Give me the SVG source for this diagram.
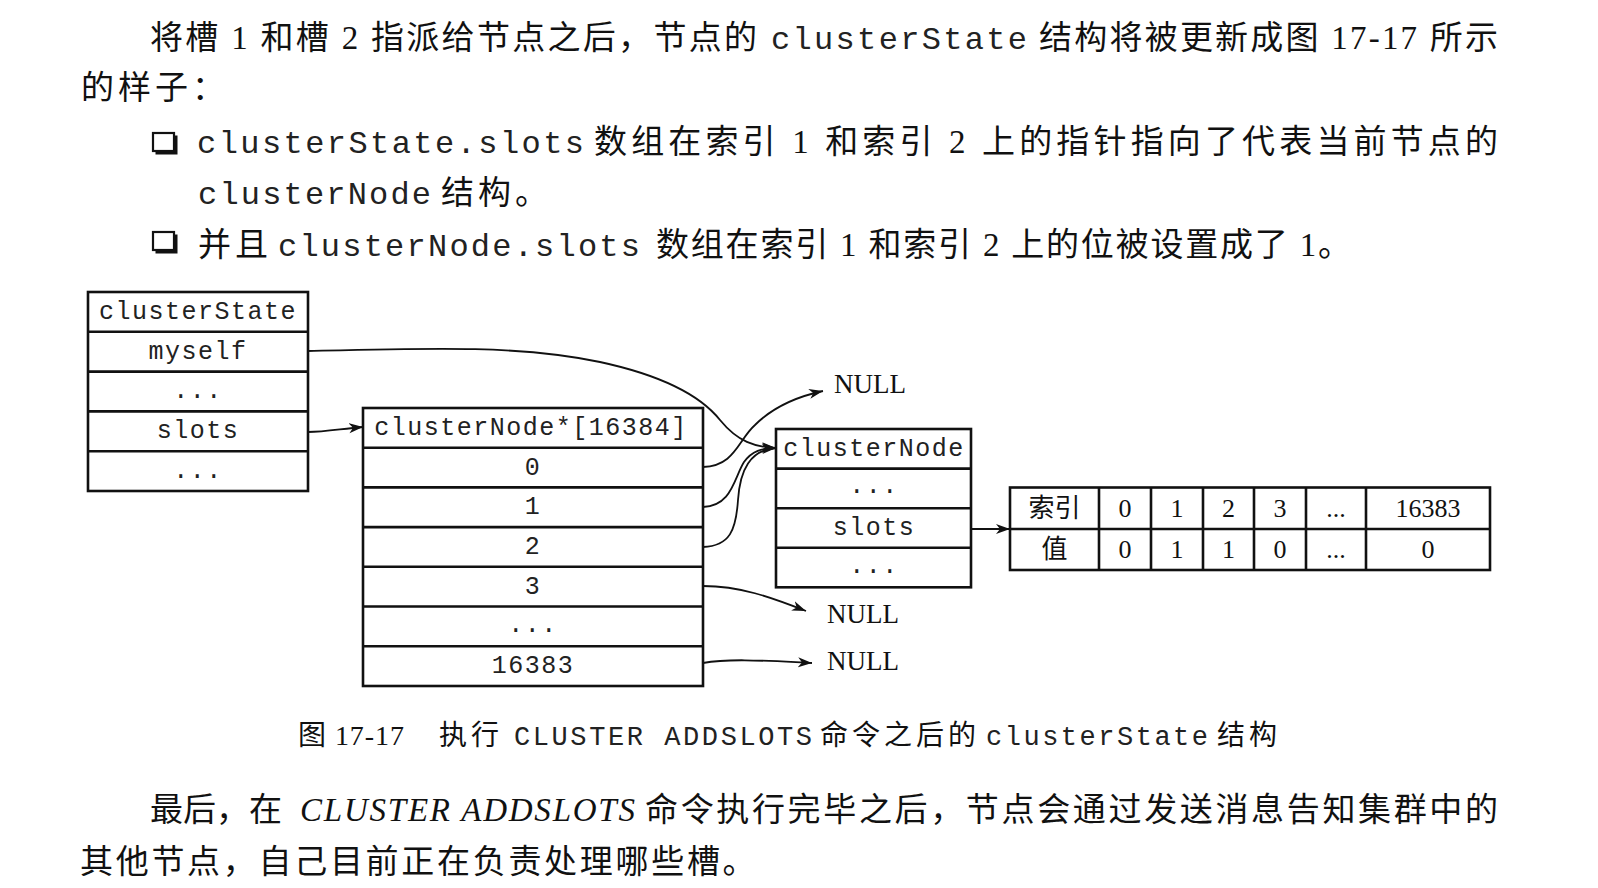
<svg xmlns="http://www.w3.org/2000/svg" width="1598" height="888" viewBox="0 0 1598 888">
<defs>
<marker id="ah" markerWidth="16" markerHeight="12" refX="14" refY="6" orient="auto" markerUnits="userSpaceOnUse"><path d="M0,1 L14,6 L0,11 L4,6 z" fill="#111"/></marker>
</defs>
<style>
.body{font-family:"Liberation Serif","Noto Sans CJK SC",serif;font-size:33px;fill:#111}
.mono{font-family:"Liberation Mono",monospace;font-size:32px;fill:#222}
.cap{font-family:"Liberation Serif","Noto Sans CJK SC",serif;font-size:28px;fill:#111}
.capm{font-family:"Liberation Mono",monospace;font-size:27px;fill:#222}
.box{fill:#fff;stroke:#111;stroke-width:2.6}
.div{stroke:#111;stroke-width:2.6;fill:none}
.bm{font-family:"Liberation Mono",monospace;font-size:25px;letter-spacing:1.5px;text-anchor:middle;fill:#222}
.tt{font-family:"Liberation Serif","Noto Sans CJK SC",serif;font-size:26px;text-anchor:middle;fill:#111}
.null{font-family:"Liberation Serif",serif;font-size:27px;fill:#111}
.conn{fill:none;stroke:#111;stroke-width:1.8;marker-end:url(#ah)}
.chk{fill:#fff;stroke:#111;stroke-width:2.2}
</style>
<rect width="1598" height="888" fill="#fff"/>

<g id="text">
<text class="body" x="150" y="49" textLength="607" lengthAdjust="spacing">将槽 1 和槽 2 指派给节点之后，节点的</text>
<text class="mono" x="771" y="49" textLength="256" lengthAdjust="spacing">clusterState</text>
<text class="body" x="1039" y="49" textLength="459" lengthAdjust="spacing">结构将被更新成图 17-17 所示</text>
<text class="body" x="81" y="99" letter-spacing="4">的样子：</text>

<rect x="155.5" y="135.5" width="22" height="19" fill="#111"/>
<rect class="chk" x="153" y="133" width="21" height="18"/>
<text class="mono" x="197" y="153" textLength="387" lengthAdjust="spacing">clusterState.slots</text>
<text class="body" x="594" y="153" textLength="904" lengthAdjust="spacing">数组在索引 1 和索引 2 上的指针指向了代表当前节点的</text>
<text class="mono" x="198" y="204" textLength="233" lengthAdjust="spacing">clusterNode</text>
<text class="body" x="441" y="204" letter-spacing="4">结构。</text>

<rect x="155.5" y="234.5" width="22" height="19" fill="#111"/>
<rect class="chk" x="153" y="232" width="21" height="18"/>
<text class="body" x="198" y="256" letter-spacing="4">并且</text>
<text class="mono" x="278" y="256" textLength="362" lengthAdjust="spacing">clusterNode.slots</text>
<text class="body" x="656" y="256" textLength="695" lengthAdjust="spacing">数组在索引 1 和索引 2 上的位被设置成了 1。</text>

<text class="cap" x="298" y="745" textLength="106" lengthAdjust="spacing">图 17-17</text>
<text class="cap" x="439" y="745" letter-spacing="4">执行</text>
<text class="capm" x="514" y="745" textLength="298" lengthAdjust="spacing">CLUSTER ADDSLOTS</text>
<text class="cap" x="820" y="745" letter-spacing="4">命令之后的</text>
<text class="capm" x="986" y="745" textLength="222" lengthAdjust="spacing">clusterState</text>
<text class="cap" x="1217" y="745" letter-spacing="4">结构</text>

<text class="body" x="150" y="821">最后，在</text>
<text class="body" x="300" y="821" font-style="italic" textLength="335" lengthAdjust="spacing">CLUSTER ADDSLOTS</text>
<text class="body" x="645" y="821" textLength="853" lengthAdjust="spacing">命令执行完毕之后，节点会通过发送消息告知集群中的</text>
<text class="body" x="80" y="873" letter-spacing="2.7">其他节点，自己目前正在负责处理哪些槽。</text>
</g>

<g id="clusterState">
<rect class="box" x="88" y="292" width="220" height="199"/>
<path class="div" d="M88,331.8H308M88,371.6H308M88,411.4H308M88,451.2H308"/>
<text class="bm" x="198" y="319">clusterState</text>
<text class="bm" x="198" y="359">myself</text>
<text class="bm" x="198" y="398">...</text>
<text class="bm" x="198" y="438">slots</text>
<text class="bm" x="198" y="478">...</text>
</g>

<g id="slotsArray">
<rect class="box" x="363" y="408" width="340" height="278"/>
<path class="div" d="M363,447.7H703M363,487.4H703M363,527.1H703M363,566.8H703M363,606.5H703M363,646.2H703"/>
<text class="bm" x="531" y="435">clusterNode*[16384]</text>
<text class="bm" x="533" y="475">0</text>
<text class="bm" x="533" y="514">1</text>
<text class="bm" x="533" y="554">2</text>
<text class="bm" x="533" y="594">3</text>
<text class="bm" x="533" y="632">...</text>
<text class="bm" x="533" y="673">16383</text>
</g>

<g id="clusterNode">
<rect class="box" x="776" y="429" width="195" height="158.3"/>
<path class="div" d="M776,468.6H971M776,508.2H971M776,547.8H971"/>
<text class="bm" x="874" y="456">clusterNode</text>
<text class="bm" x="874" y="493">...</text>
<text class="bm" x="874" y="535">slots</text>
<text class="bm" x="874" y="573">...</text>
</g>

<g id="slotsTable">
<rect class="box" x="1010" y="487.5" width="480" height="82.5"/>
<path class="div" d="M1010,529H1490M1099,487.5V570M1151,487.5V570M1203,487.5V570M1254,487.5V570M1306,487.5V570M1366,487.5V570"/>
<text class="tt" x="1054.5" y="517">索引</text>
<text class="tt" x="1125" y="517">0</text>
<text class="tt" x="1177" y="517">1</text>
<text class="tt" x="1228.5" y="517">2</text>
<text class="tt" x="1280" y="517">3</text>
<text class="tt" x="1336" y="517">...</text>
<text class="tt" x="1428" y="517">16383</text>
<text class="tt" x="1054.5" y="558">值</text>
<text class="tt" x="1125" y="558">0</text>
<text class="tt" x="1177" y="558">1</text>
<text class="tt" x="1228.5" y="558">1</text>
<text class="tt" x="1280" y="558">0</text>
<text class="tt" x="1336" y="558">...</text>
<text class="tt" x="1428" y="558">0</text>
</g>

<g id="null0"><text class="null" x="834" y="393">NULL</text></g>
<g id="null3"><text class="null" x="827" y="623">NULL</text></g>
<g id="null16383"><text class="null" x="827" y="670">NULL</text></g>

<g id="connectors">
<path class="conn" d="M308,351 C430,348 520,345 600,362 C660,375 700,395 720,420 C738,442 755,447 776,448"/>
<path class="conn" d="M308,432 C325,432 340,429 363,427"/>
<path class="conn" d="M703,467 C735,466 738,440 755,425 C775,405 800,396 823,391"/>
<path class="conn" d="M703,507 C732,506 734,478 744,462 C752,451 762,448 776,448"/>
<path class="conn" d="M703,547 C730,546 736,530 738,500 C740,470 750,450 776,448"/>
<path class="conn" d="M703,586 C740,586 770,597 806,611"/>
<path class="conn" d="M703,663 C730,658 770,661 812,663"/>
<path class="conn" d="M971,529 L1010,529"/>
</g>
</svg>
